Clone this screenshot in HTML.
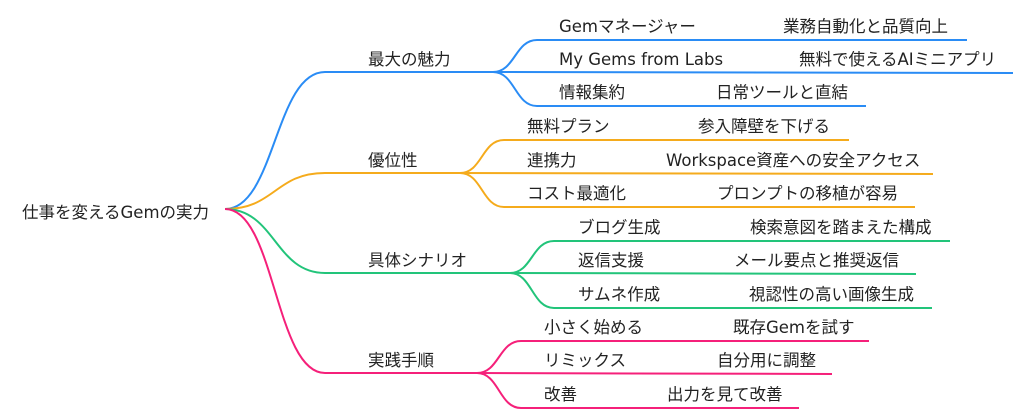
<!DOCTYPE html>
<html><head><meta charset="utf-8"><style>
html,body{margin:0;padding:0;background:#fff;}
svg{display:block}
text{font-family:"DejaVu Sans","Noto Sans CJK JP",sans-serif;font-size:16.5px;fill:#222;}
path{fill:none;stroke-width:2;}
</style></head><body>
<svg width="1024" height="419" viewBox="0 0 1024 419" xmlns="http://www.w3.org/2000/svg">
<text x="22" y="218">仕事を変えるGemの実力</text>
<!-- level1 -->
<path stroke="#2a8cf5" d="M225 209 C275 209,275 72,325 72 L493 72"/>
<path stroke="#f5ab1c" d="M225 209 C275 209,275 173,325 173 L460 173"/>
<path stroke="#22c47a" d="M225 209 C275 209,275 273,325 273 L510 273"/>
<path stroke="#f5207a" d="M225 209 C275 209,275 373,325 373 L477 373"/>
<text x="368" y="65">最大の魅力</text>
<text x="368" y="166">優位性</text>
<text x="368" y="266">具体シナリオ</text>
<text x="368" y="366">実践手順</text>
<!-- blue -->
<path stroke="#2a8cf5" d="M493 72 C515 72,515 40,537 40 L967 40"/>
<path stroke="#2a8cf5" d="M493 72 L1013 73"/>
<path stroke="#2a8cf5" d="M493 72 C515 72,515 106,537 106 L866 106"/>
<text x="559" y="32">Gemマネージャー</text><text x="783" y="32">業務自動化と品質向上</text>
<text x="559" y="65">My Gems from Labs</text><text x="799" y="65">無料で使えるAIミニアプリ</text>
<text x="559" y="98">情報集約</text><text x="716" y="98">日常ツールと直結</text>
<!-- orange -->
<path stroke="#f5ab1c" d="M460 173 C482 173,482 140,504 140 L849 140"/>
<path stroke="#f5ab1c" d="M460 173 L933 174"/>
<path stroke="#f5ab1c" d="M460 173 C482 173,482 207,504 207 L915 207"/>
<text x="527" y="132">無料プラン</text><text x="698" y="132">参入障壁を下げる</text>
<text x="527" y="166">連携力</text><text x="666" y="166">Workspace資産への安全アクセス</text>
<text x="527" y="199">コスト最適化</text><text x="717" y="199">プロンプトの移植が容易</text>
<!-- green -->
<path stroke="#22c47a" d="M510 273 C532 273,532 241,554 241 L950 241"/>
<path stroke="#22c47a" d="M510 273 L916 274"/>
<path stroke="#22c47a" d="M510 273 C532 273,532 308,554 308 L932 308"/>
<text x="578" y="233">ブログ生成</text><text x="750" y="233">検索意図を踏まえた構成</text>
<text x="578" y="266">返信支援</text><text x="734" y="266">メール要点と推奨返信</text>
<text x="578" y="300">サムネ作成</text><text x="749" y="300">視認性の高い画像生成</text>
<!-- pink -->
<path stroke="#f5207a" d="M477 373 C499 373,499 341,521 341 L869 341"/>
<path stroke="#f5207a" d="M477 373 L832 374"/>
<path stroke="#f5207a" d="M477 373 C499 373,499 408,521 408 L799 408"/>
<text x="544" y="333">小さく始める</text><text x="733" y="333">既存Gemを試す</text>
<text x="544" y="366">リミックス</text><text x="717" y="366">自分用に調整</text>
<text x="544" y="400">改善</text><text x="667" y="400">出力を見て改善</text>
</svg>
</body></html>
